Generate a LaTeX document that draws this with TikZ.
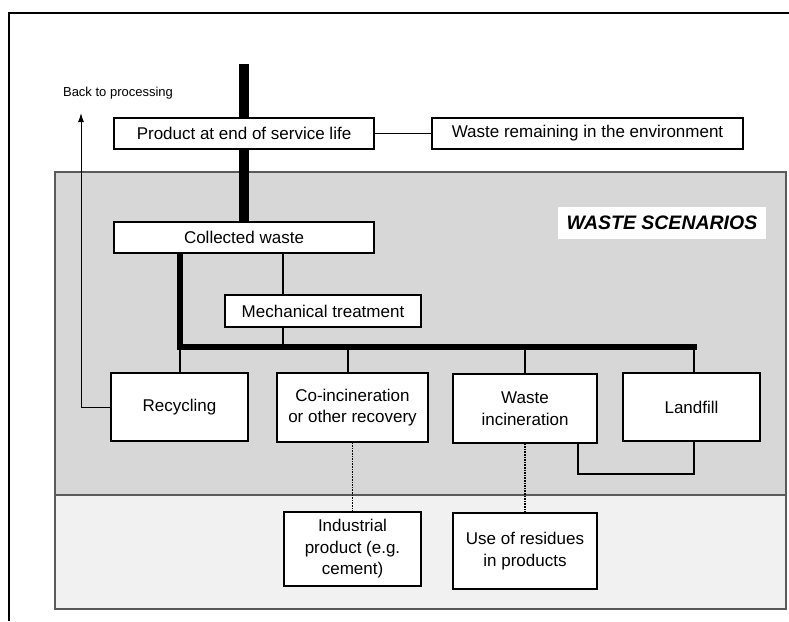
\documentclass[tikz,border=0pt]{standalone}
\usepackage{fontspec}
\setmainfont{Liberation Sans}
\usetikzlibrary{arrows.meta}
\definecolor{scenfill}{HTML}{D7D7D7}
\definecolor{usefill}{HTML}{F1F1F1}
\definecolor{scenline}{HTML}{5A5A5A}
\tikzset{
  box/.style={draw, fill=white, line width=1.2pt, inner sep=0pt, align=center,
    font=\fontsize{17}{21.5}\selectfont},
  heavy/.style={line width=10pt},
  trunk/.style={line width=6pt},
  feed/.style={line width=2.7pt},
  branch/.style={line width=2pt},
  reuse/.style={densely dotted, line width=1.6pt},
}
\begin{document}
\begin{tikzpicture}[x=1pt,y=-1pt]
	\useasboundingbox (0,0) rectangle (789,621);
	\draw[line width=1.5pt] (9,621) -- (9,13) -- (789,13);
	\draw[fill=scenfill, draw=scenline, line width=1.5pt] (55,172) rectangle (786,495);
	\draw[fill=usefill, draw=scenline, line width=1.5pt] (55,495) rectangle (786,609);
	\node[box, minimum width=260pt, minimum height=31pt] (prod) at (244,133.5) {Product at end of service life};
	\node[box, minimum width=311pt, minimum height=31pt] (remain) at (587.5,133.5) {Waste remaining in the environment};
	\node[box, minimum width=260pt, minimum height=31pt] (collected) at (244,237.5) {Collected waste};
	\node[box, minimum width=196pt, minimum height=32pt] (mech) at (323,311) {Mechanical treatment};
	\node[box, minimum width=137pt, minimum height=68pt] (recyc) at (179.5,407) {Recycling};
	\node[box, minimum width=151pt, minimum height=69pt] (coinc) at (352.5,407.5) {Co-incineration\\or other recovery};
	\node[box, minimum width=144pt, minimum height=69pt] (wincin) at (525,408.5) {Waste\\incineration};
	\node[box, minimum width=137pt, minimum height=68pt] (landfill) at (691.5,407) {Landfill};
	\node[box, minimum width=137pt, minimum height=74pt] (indprod) at (352.5,549) {Industrial\\product (e.g.\\cement)};
	\node[box, minimum width=144pt, minimum height=76pt] (residues) at (525,551) {Use of residues\\in products};
	\node[fill=white, inner sep=0pt, minimum width=208pt, minimum height=32pt,
	  font=\bfseries\itshape\fontsize{19.5}{22}\selectfont] (scen) at (662,223) {WASTE SCENARIOS};
	\node[font=\fontsize{13}{15}\selectfont] (back) at (118,93) {Back to processing};
	\coordinate (top) at (244,64);
	\coordinate (split) at (283,347);
	\coordinate (barR) at (697,347);
	\coordinate (coincx) at (348,347);
	\coordinate (fillx) at (694,347);
	\coordinate (loop) at (578,474);
	\coordinate (loopR) at (694,474);
	\coordinate (backtip) at (81,113);
	\draw[heavy] (top) -- (prod.north);
	\draw[heavy] (prod.south) -- (collected.north);
	\draw[line width=1.5pt] (prod.east) -- (remain.west);
	\draw[trunk] (collected.south -| recyc.north) |- (barR);
	\draw[feed] (collected.south -| split) -- (mech.north -| split);
	\draw[feed] (mech.south -| split) -- (split);
	\draw[branch] (recyc.north |- barR) -- (recyc.north);
	\draw[branch] (coincx) -- (coinc.north -| coincx);
	\draw[branch] (wincin.north |- barR) -- (wincin.north);
	\draw[branch] (fillx) -- (landfill.north -| fillx);
	\draw[branch] (wincin.south -| loop) |- (loopR) -- (landfill.south -| loopR);
	\draw[line width=1pt, -{Latex[length=9pt,width=6pt]}] (recyc.west) -| (backtip);
	\draw[reuse] (coinc.south) -- (indprod.north);
	\draw[reuse] (wincin.south) -- (residues.north);
\end{tikzpicture}
\end{document}
